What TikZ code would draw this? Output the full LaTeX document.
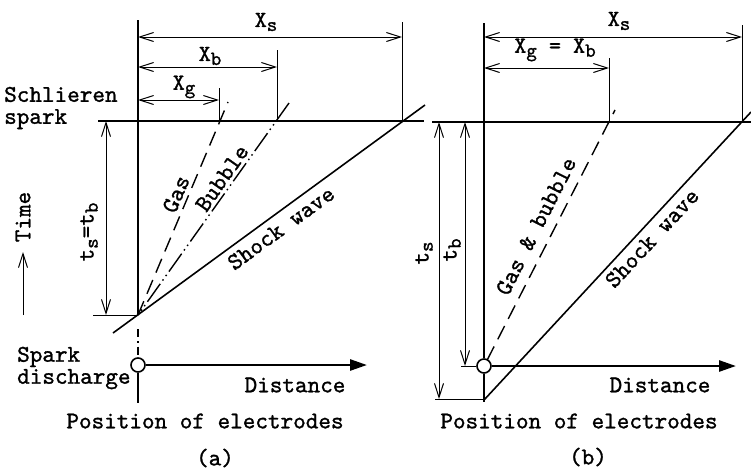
\documentclass[tikz,border=0pt]{standalone}
\usepackage{fontspec}
\usetikzlibrary{arrows.meta}
\newfontfamily\twfont{lmmono10-regular.otf}[FakeBold=1.2]
\newcommand\lowsub[1]{\raisebox{-0.4ex}{\fontsize{20}{20}\selectfont #1}}
\begin{document}
\begin{tikzpicture}[x=1pt,y=-1pt,
  thickline/.style={line width=1.6pt},
  thinline/.style={line width=1pt},
  barb/.tip={Straight Barb[length=14pt,width=9pt,line width=1pt]},
  dim/.style={line width=1pt,barb-barb},
  dimend/.style={line width=1pt,-barb},
  lbl/.style={font=\twfont\fontsize{24}{25}\selectfont, inner sep=0pt},
  xlbl/.style={font=\twfont\fontsize{23}{25}\selectfont, inner sep=0pt},
  elec/.style={circle, draw, line width=1.6pt, fill=white, minimum size=14pt, inner sep=0pt},
  distarrow/.style={line width=2.6pt, -{Triangle[length=17pt,width=11pt]}},
  gasdash/.style={line width=1.4pt, dash pattern=on 15pt off 8pt},
  bubbledash/.style={line width=1.4pt, dash pattern=on 22pt off 4pt on 1.5pt off 4pt on 1.5pt off 4pt}
]
\useasboundingbox (0,0) rectangle (751,472);

% ===================== Panel (a) =====================
\coordinate (EaT) at (138,20);
\coordinate (Oa) at (138,315);
\coordinate (EaB) at (138,403);
\node[elec] (Ca) at (138,365) {};
\coordinate (SLa1) at (98,121);
\coordinate (SLa2) at (424,121);
\coordinate (GasA) at (228,102);
\coordinate (BubA) at (289,103);
\coordinate (ShA1) at (113,333);
\coordinate (ShA2) at (425,105);
\coordinate (XsAv1) at (402,22);
\coordinate (XsAv2) at (402,121);
\coordinate (XbAv1) at (277,50);
\coordinate (XbAv2) at (277,121);
\coordinate (XgAv1) at (219,88);
\coordinate (XgAv2) at (219,121);
\coordinate (XsA1) at (138,37);
\coordinate (XsA2) at (402,37);
\coordinate (XbA1) at (138,67);
\coordinate (XbA2) at (277,67);
\coordinate (XgA1) at (138,100);
\coordinate (XgA2) at (219,100);
\coordinate (TA1) at (106,121);
\coordinate (TA2) at (106,315);
\coordinate (TAtick) at (93,315);
\coordinate (Time1) at (23,315);
\coordinate (Time2) at (23,252);
\coordinate (DistA) at (367,365);

\draw[thickline] (EaT) -- (Oa);
\draw[line width=1.4pt, dash pattern=on 0pt off 14pt on 8pt off 4pt on 1.5pt off 4pt on 8pt off 30pt] (Oa) -- (Ca.north);
\draw[thickline] (Ca.south) -- (EaB);
\draw[thickline] (SLa1) -- (SLa2);
\draw[gasdash] (Oa) -- (GasA);
\draw[bubbledash] (BubA) -- (Oa);
\draw[thickline] (ShA1) -- (ShA2);
\draw[thinline] (XsAv1) -- (XsAv2);
\draw[thinline] (XbAv1) -- (XbAv2);
\draw[thinline] (XgAv1) -- (XgAv2);
\draw[dim] (XsA1) -- (XsA2);
\draw[dim] (XbA1) -- (XbA2);
\draw[dim] (XgA1) -- (XgA2);
\draw[dim] (TA1) -- (TA2);
\draw[thinline] (TAtick) -- (Oa);
\draw[dimend] (Time1) -- (Time2);
\draw[distarrow] (Ca.east) -- (DistA);

\node[xlbl] (lXsA) at (266,22) {X\lowsub{s}};
\node[xlbl] (lXbA) at (210,56) {X\lowsub{b}};
\node[xlbl] (lXgA) at (184,87) {X\lowsub{g}};
\node[lbl, anchor=west, align=left] (lSchl) at (4,108) {Schlieren\\[-3pt]spark};
\node[lbl, anchor=west, align=left] (lSpark) at (17,368) {Spark\\[-3pt]discharge};
\node[lbl] (lDistA) at (295,385) {Distance};
\node[lbl] (lPosA) at (205,421) {Position of electrodes};
\node[lbl] (lA) at (215,458) {(a)};
\node[lbl, rotate=90] (lTime) at (23,217) {Time};
\node[lbl, rotate=90] (lTsTb) at (89,232) {t\lowsub{s}=t\lowsub{b}};
\node[lbl, rotate=67] (lGas) at (176,194) {Gas};
\node[lbl, rotate=55] (lBub) at (222,178) {Bubble};
\node[lbl, rotate=36] (lShA) at (281,228) {Shock wave};

% ===================== Panel (b) =====================
\coordinate (EbT) at (484,23);
\node[elec] (Cb) at (484,366) {};
\coordinate (EbB) at (484,402);
\coordinate (SLb1) at (432,122);
\coordinate (SLb2) at (751,122);
\coordinate (GasB) at (615,110);
\coordinate (ShB1) at (484,400);
\coordinate (ShB2) at (751,112);
\coordinate (XsBv1) at (742,25);
\coordinate (XsBv2) at (742,122);
\coordinate (XgbBv1) at (609,58);
\coordinate (XgbBv2) at (609,122);
\coordinate (XsB1) at (484,37);
\coordinate (XsB2) at (742,37);
\coordinate (XgbB1) at (484,68);
\coordinate (XgbB2) at (609,68);
\coordinate (TsB1) at (439,122);
\coordinate (TsB2) at (439,399);
\coordinate (TsBtick1) at (435,399);
\coordinate (TsBtick2) at (484,399);
\coordinate (TbB1) at (465,122);
\coordinate (TbB2) at (465,366);
\coordinate (TbBtick) at (461,366);
\coordinate (DistB) at (736,366);

\draw[thickline] (EbT) -- (Cb.north);
\draw[thickline] (Cb.south) -- (EbB);
\draw[thickline] (SLb1) -- (SLb2);
\draw[gasdash] (Cb) ++(62:7pt) -- (GasB);
\draw[thickline] (ShB1) -- (ShB2);
\draw[thinline] (XsBv1) -- (XsBv2);
\draw[thinline] (XgbBv1) -- (XgbBv2);
\draw[dim] (XsB1) -- (XsB2);
\draw[dim] (XgbB1) -- (XgbB2);
\draw[dim] (TsB1) -- (TsB2);
\draw[dim] (TbB1) -- (TbB2);
\draw[thinline] (TsBtick1) -- (TsBtick2);
\draw[thinline] (TbBtick) -- (Cb.west);
\draw[distarrow] (Cb.east) -- (DistB);

\node[xlbl] (lXsB) at (619,21) {X\lowsub{s}};
\node[xlbl] (lXgbB) at (555,50) {X\lowsub{g} = X\lowsub{b}};
\node[lbl] (lDistB) at (660,385) {Distance};
\node[lbl] (lPosB) at (579,421) {Position of electrodes};
\node[lbl] (lB) at (588,457) {(b)};
\node[lbl, rotate=90] (lTsB) at (424,253) {t\lowsub{s}};
\node[lbl, rotate=90] (lTbB) at (452,250) {t\lowsub{b}};
\node[lbl, rotate=63] (lGasB) at (536,226) {Gas \& bubble};
\node[lbl, rotate=47] (lShB) at (652,238) {Shock wave};
\end{tikzpicture}
\end{document}
